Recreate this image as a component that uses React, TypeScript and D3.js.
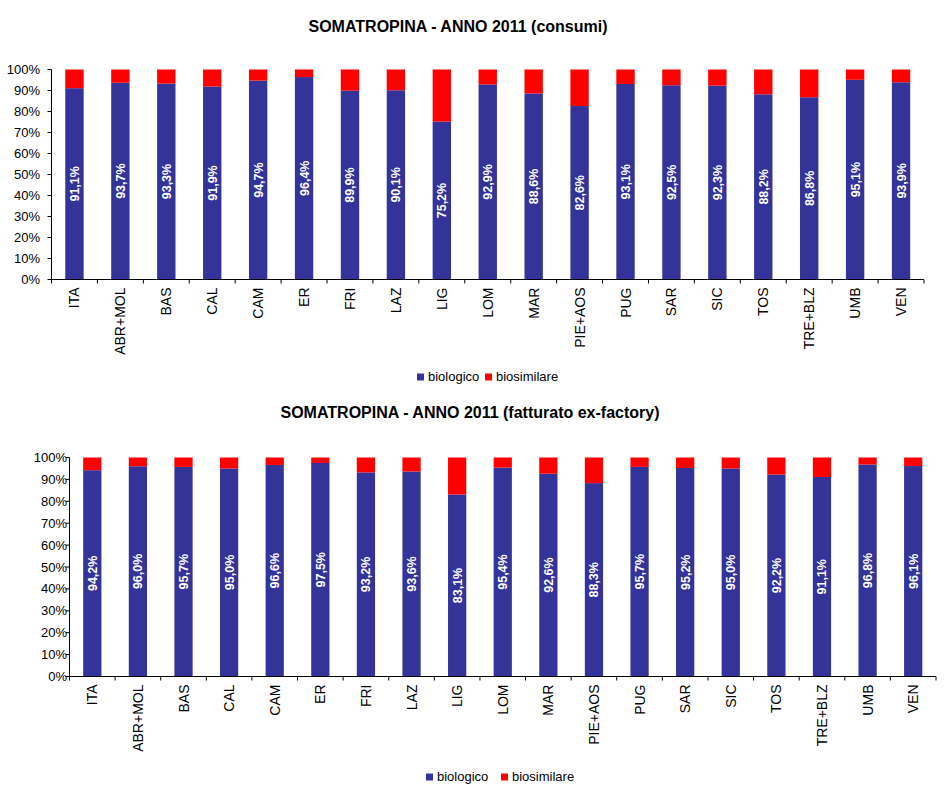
import React from "react";
import * as d3 from "d3";

const categories = ["ITA","ABR+MOL","BAS","CAL","CAM","ER","FRI","LAZ","LIG","LOM","MAR","PIE+AOS","PUG","SAR","SIC","TOS","TRE+BLZ","UMB","VEN"];
const consumiBiologico = [91.1,93.7,93.3,91.9,94.7,96.4,89.9,90.1,75.2,92.9,88.6,82.6,93.1,92.5,92.3,88.2,86.8,95.1,93.9];
const consumiBiosimilare = [8.9,6.3,6.7,8.1,5.3,3.6,10.1,9.9,24.8,7.1,11.4,17.4,6.9,7.5,7.7,11.8,13.2,4.9,6.1];
const fatturatoBiologico = [94.2,96.0,95.7,95.0,96.6,97.5,93.2,93.6,83.1,95.4,92.6,88.3,95.7,95.2,95.0,92.2,91.1,96.8,96.1];
const fatturatoBiosimilare = [5.8,4.0,4.3,5.0,3.4,2.5,6.8,6.4,16.9,4.6,7.4,11.7,4.3,4.8,5.0,7.8,8.9,3.2,3.9];
const yTicks = [0,10,20,30,40,50,60,70,80,90,100];
const seriesNames = ["biologico","biosimilare"];
const colors = ["#333399","#FF0000"];

const FONT = "Arial, 'Liberation Sans', sans-serif";

type ChartProps = {
  title: string; titleX: number; titleY: number;
  bio: number[]; sim: number[];
  x0: number; x1: number; yTop: number; yBottom: number;
  labelRight: number;
  legendX: number; legendY: number; legendGap: number;
};

function Chart(p: ChartProps) {
  const x = d3.scaleBand<string>().domain(categories).range([p.x0, p.x1]).paddingInner(0.6).paddingOuter(0.3);
  const y = d3.scaleLinear().domain([0, 100]).range([p.yBottom, p.yTop]);
  const step = x.step();
  const fmt = (v: number) => v.toFixed(1).replace(".", ",") + "%";
  return (
    <g>
      <text x={p.titleX} y={p.titleY} textAnchor="middle" fontFamily={FONT} fontWeight="bold" fontSize={16}>{p.title}</text>
      {categories.map((c, i) => {
        const bx = x(c)!;
        const bw = x.bandwidth();
        const yb = y(p.bio[i]);
        const ys = y(p.bio[i] + p.sim[i]);
        const cx = bx + bw / 2;
        const cy = (y(0) + yb) / 2;
        return (
          <g key={c}>
            <rect x={bx} y={yb} width={bw} height={y(0) - yb} fill={colors[0]} />
            <rect x={bx} y={ys} width={bw} height={yb - ys} fill={colors[1]} />
            <text transform={`translate(${cx + 4.5},${cy}) rotate(-90)`} textAnchor="middle" fontFamily={FONT} fontWeight="bold" fontSize={12.5} fill="#fff">{fmt(p.bio[i])}</text>
            <text transform={`translate(${cx + 5},${p.yBottom + 8}) rotate(-90)`} textAnchor="end" fontFamily={FONT} fontSize={14} fill="#000">{c}</text>
          </g>
        );
      })}
      {/* y axis */}
      <line x1={p.x0} x2={p.x0} y1={p.yTop} y2={p.yBottom} stroke="#000" />
      {yTicks.map(t => (
        <g key={t}>
          <line x1={p.x0 - 4} x2={p.x0} y1={y(t)} y2={y(t)} stroke="#000" />
          <text x={p.labelRight} y={y(t) + 4.5} textAnchor="end" fontFamily={FONT} fontSize={13}>{t}%</text>
        </g>
      ))}
      {/* x axis */}
      <line x1={p.x0} x2={p.x1} y1={p.yBottom} y2={p.yBottom} stroke="#000" />
      {d3.range(categories.length + 1).map(i => (
        <line key={i} x1={p.x0 + i * step} x2={p.x0 + i * step} y1={p.yBottom} y2={p.yBottom + 4} stroke="#000" />
      ))}
      {/* legend */}
      {seriesNames.map((s, i) => (
        <g key={s} transform={`translate(${p.legendX + i * p.legendGap},${p.legendY})`}>
          <rect x={0} y={-7.5} width={7} height={7} fill={colors[i]} />
          <text x={11} y={0} fontFamily={FONT} fontSize={13}>{s}</text>
        </g>
      ))}
    </g>
  );
}

export default function App() {
  return (
    <svg width={945} height={790} style={{ position: "absolute", left: 0, top: 0, background: "#fff" }}>
      <rect width={945} height={790} fill="#fff" />
      <Chart title="SOMATROPINA - ANNO 2011 (consumi)" titleX={458} titleY={32}
        bio={consumiBiologico} sim={consumiBiosimilare}
        x0={51.5} x1={924} yTop={69.5} yBottom={279.5} labelRight={40}
        legendX={417} legendY={381} legendGap={68} />
      <Chart title="SOMATROPINA - ANNO 2011 (fatturato ex-factory)" titleX={470} titleY={418}
        bio={fatturatoBiologico} sim={fatturatoBiosimilare}
        x0={69.5} x1={936} yTop={457.5} yBottom={676.5} labelRight={67}
        legendX={426} legendY={781} legendGap={75} />
    </svg>
  );
}
